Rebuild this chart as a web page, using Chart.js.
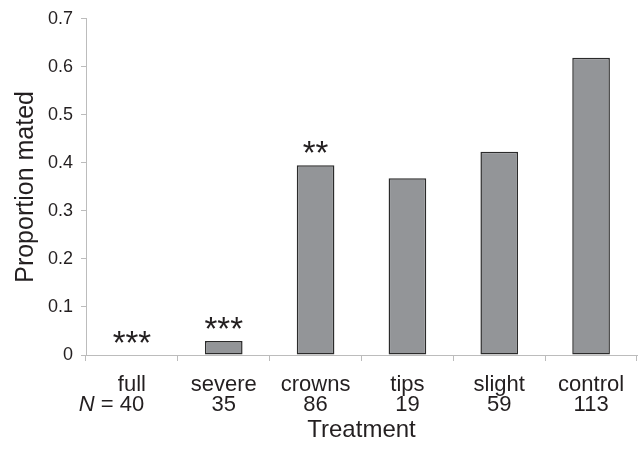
<!DOCTYPE html>
<html>
<head>
<meta charset="utf-8">
<script src="https://cdn.jsdelivr.net/npm/chart.js@4/dist/chart.umd.min.js"></script>
<style>
  html, body { margin: 0; padding: 0; background: #fff; }
  #wrap { width: 642px; height: 451px; position: relative; }
</style>
</head>
<body>
<div id="wrap"><canvas id="mated"></canvas></div>
<script>
// Treatment groups and their sample sizes
const categories = ['full', 'severe', 'crowns', 'tips', 'slight', 'control'];
const sampleSizes = [40, 35, 86, 19, 59, 113];
// Proportion of individuals that mated
const proportionMated = [0, 0.029, 0.395, 0.368, 0.423, 0.619];
// Significance stars shown above each bar
const stars = ['***', '***', '**', '', '', ''];
const yMin = 0;
const yMax = 0.7;
const yStep = 0.1;

const FONT = '"Liberation Sans", Arial, Helvetica, sans-serif';
const TEXT = '#231f20';
const AXIS = '#bcbcbc';

// Category names, N row and significance stars
const annotations = {
  id: 'annotations',
  afterDraw(c) {
    const { ctx } = c;
    const x = c.scales.x;
    const y = c.scales.y;
    ctx.save();
    ctx.fillStyle = TEXT;
    ctx.textBaseline = 'alphabetic';
    categories.forEach((name, i) => {
      const px = x.getPixelForValue(i);
      ctx.font = `22px ${FONT}`;
      ctx.textAlign = 'center';
      ctx.fillText(name, px, 391);
      const num = String(sampleSizes[i]);
      ctx.fillText(num, px, 411);
      if (i === 0) {
        const left = px - ctx.measureText(num).width / 2;
        ctx.textAlign = 'right';
        ctx.fillText('= ', left, 411);
        const eqW = ctx.measureText('= ').width;
        ctx.font = `italic 22px ${FONT}`;
        ctx.fillText('N ', left - eqW, 411);
      }
      if (stars[i]) {
        ctx.font = `33px ${FONT}`;
        ctx.textAlign = 'center';
        const top = y.getPixelForValue(proportionMated[i]);
        ctx.fillText(stars[i], px, top - 1);
      }
    });
    ctx.font = `24px ${FONT}`;
    ctx.textAlign = 'center';
    ctx.fillText('Treatment', (c.chartArea.left + c.chartArea.right) / 2, 437);
    ctx.restore();
  },
};

new Chart(document.getElementById('mated'), {
  type: 'bar',
  data: {
    labels: categories,
    datasets: [{
      label: 'Proportion mated',
      data: proportionMated,
      backgroundColor: '#939598',
      borderColor: '#2b2b2b',
      borderWidth: 1.5,
      borderSkipped: false,
      categoryPercentage: 1,
      barPercentage: 0.41,
    }],
  },
  options: {
    responsive: true,
    maintainAspectRatio: false,
    animation: false,
    devicePixelRatio: 1,
    layout: { padding: { top: 16, right: 5, left: 0, bottom: 0 } },
    plugins: { legend: { display: false }, tooltip: { enabled: false } },
    scales: {
      x: {
        afterFit(s) { s.height = 96; },
        ticks: { display: false },
        grid: {
          offset: true,
          drawOnChartArea: false,
          color: AXIS,
          tickLength: 6,
        },
        border: { color: AXIS, width: 1 },
      },
      y: {
        min: yMin,
        max: yMax,
        afterFit(s) { s.width = 86; },
        ticks: {
          stepSize: yStep,
          color: TEXT,
          font: { family: FONT, size: 18 },
          padding: 8,
          callback: (v) => (v === 0 ? '0' : v.toFixed(1)),
        },
        grid: {
          drawOnChartArea: false,
          color: AXIS,
          tickLength: 5,
        },
        border: { color: AXIS, width: 1 },
        title: {
          display: true,
          text: 'Proportion mated',
          color: TEXT,
          font: { family: FONT, size: 25 },
          padding: { top: 11, bottom: 0 },
        },
      },
    },
  },
  plugins: [annotations],
});
</script>
</body>
</html>
